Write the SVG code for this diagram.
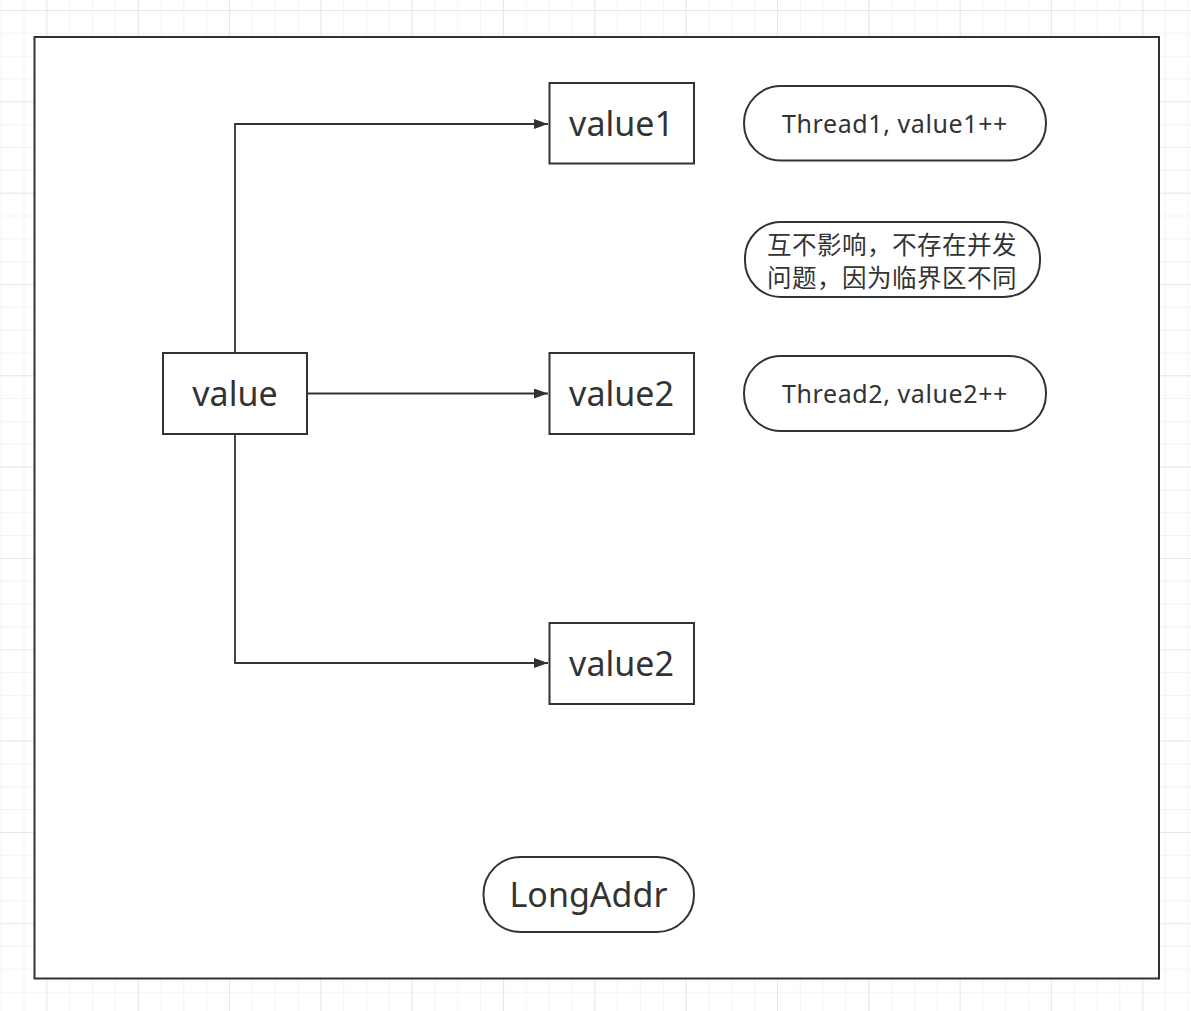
<svg xmlns="http://www.w3.org/2000/svg" width="1191" height="1011" viewBox="0 0 1191 1011">
<defs>
<pattern id="minor" x="0.7" y="10" width="22.83" height="22.83" patternUnits="userSpaceOnUse">
<path d="M0 0H22.83M0 0V22.83" fill="none" stroke="#f0f0f0" stroke-width="1.5"/>
</pattern>
<pattern id="major" x="46.4" y="10" width="91.33" height="91.33" patternUnits="userSpaceOnUse">
<path d="M0 0H91.33M0 0V91.33" fill="none" stroke="#e4e4e4" stroke-width="1.5"/>
</pattern>
<marker id="arr" markerWidth="14" markerHeight="10" refX="14" refY="5" orient="auto" markerUnits="userSpaceOnUse">
<path d="M0 0L14 5L0 10Z" fill="#2e3338"/>
</marker>
</defs>
<style>
.box{fill:#fff;stroke:#2e3338;stroke-width:2}
.t{font-family:"Noto Sans","Liberation Sans","Noto Sans CJK SC",sans-serif;fill:#333;text-anchor:middle;dominant-baseline:central}
.big{font-size:34px}
.sm{font-size:25px;letter-spacing:0.6px}
.cjk{font-family:"Noto Sans CJK SC","Noto Sans",sans-serif;font-size:24.5px;letter-spacing:0.5px}
.c{fill:none;stroke:#2e3338;stroke-width:1.8}
</style>
<rect width="1191" height="1011" fill="#fff"/>
<rect width="1191" height="1011" fill="url(#minor)"/>
<rect width="1191" height="1011" fill="url(#major)"/>
<g id="frame"><rect class="box" x="34.5" y="37" width="1124.5" height="941.5"/></g>
<g id="connectors">
<path class="c" d="M235 353V124H548" marker-end="url(#arr)"/>
<path class="c" d="M307 393.5H548" marker-end="url(#arr)"/>
<path class="c" d="M235 434V663H548" marker-end="url(#arr)"/>
</g>
<g id="node-value"><rect class="box" x="163" y="353" width="144" height="81"/><text class="t big" x="235" y="393">value</text></g>
<g id="node-value1"><rect class="box" x="549.5" y="83" width="144.5" height="80.5"/><text class="t big" x="621.5" y="123">value1</text></g>
<g id="node-value2a"><rect class="box" x="549.5" y="353" width="144.5" height="81"/><text class="t big" x="621.5" y="393">value2</text></g>
<g id="node-value2b"><rect class="box" x="549.5" y="623" width="144.5" height="81"/><text class="t big" x="621.5" y="663">value2</text></g>
<g id="node-thread1"><rect class="box" x="744" y="86" width="302" height="74.5" rx="37" ry="37"/><text class="t sm" x="895" y="123">Thread1, value1++</text></g>
<g id="node-note"><rect class="box" x="745" y="222" width="295" height="75" rx="36" ry="36"/><text class="t cjk" x="892" y="243">互不影响，不存在并发<tspan x="892" dy="33">问题，因为临界区不同</tspan></text></g>
<g id="node-thread2"><rect class="box" x="744" y="356" width="302" height="75" rx="37" ry="37"/><text class="t sm" x="895" y="393">Thread2, value2++</text></g>
<g id="node-longaddr"><rect class="box" x="483.5" y="857" width="210.5" height="75" rx="37" ry="37"/><text class="t big" x="588.5" y="894">LongAddr</text></g>
</svg>
